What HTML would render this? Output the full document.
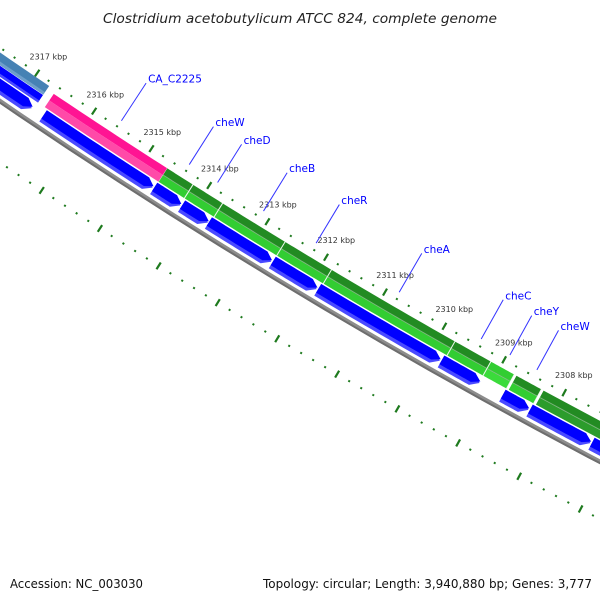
<!DOCTYPE html>
<html><head><meta charset="utf-8"><style>
html,body{margin:0;padding:0;background:#fff;}
svg{display:block;}
</style></head><body>
<svg id="map" xmlns="http://www.w3.org/2000/svg" width="600" height="600" viewBox="0 0 600 600">
<rect width="600" height="600" fill="#fff"/>
<g id="rings"></g>
<g id="labels"></g>
<text x="300" y="23" text-anchor="middle" font-family="DejaVu Sans, Liberation Sans, sans-serif" font-style="italic" font-size="13" fill="#222" textLength="394" lengthAdjust="spacingAndGlyphs">Clostridium acetobutylicum ATCC 824, complete genome</text>
<text x="10" y="588" font-family="DejaVu Sans, Liberation Sans, sans-serif" font-size="12" fill="#111" textLength="133" lengthAdjust="spacingAndGlyphs">Accession: NC_003030</text>
<text x="592" y="588" text-anchor="end" font-family="DejaVu Sans, Liberation Sans, sans-serif" font-size="12" fill="#111" textLength="329" lengthAdjust="spacingAndGlyphs">Topology: circular; Length: 3,940,880 bp; Genes: 3,777</text>
</svg>
<script>
// ---- data ----
const fwdStart = [2319.5, 2316.63, 2314.65, 2314.20, 2313.69, 2312.62, 2311.83, 2309.75, 2309.15, 2308.73, 2308.28];
const fwdEnd   = [2316.75, 2314.65, 2314.21, 2313.70, 2312.63, 2311.84, 2309.76, 2309.16, 2308.77, 2308.32, 2305.5];
const fwdTop   = ['#4682b4','#ff1493','#228b22','#228b22','#228b22','#228b22','#228b22','#228b22','#32cd32','#228b22','#228b22'];
const fwdBot   = ['#6e9fca','#ff4aa8','#32cd32','#32cd32','#32cd32','#32cd32','#32cd32','#32cd32','#3bdb3b','#32cd32','#2c9c2c'];
const revStart = [2319.5, 2316.58, 2314.66, 2314.18, 2313.72, 2312.63, 2311.86, 2309.79, 2308.77, 2308.32, 2307.30];
const revEnd   = [2316.78, 2314.68, 2314.20, 2313.73, 2312.65, 2311.88, 2309.81, 2309.15, 2308.34, 2307.32, 2305.5];
const tickKbp  = [2308, 2309, 2310, 2311, 2312, 2313, 2314, 2315, 2316, 2317];
const geneNames = ['CA_C2225','cheW','cheD','cheB','cheR','cheA','cheC','cheY','cheW'];
const geneKbp   = [2315.59, 2314.41, 2313.92, 2313.13, 2312.23, 2310.82, 2309.44, 2308.96, 2308.51];

// ---- axis (circular) ----
const CX = 3450, CY = -4960;
function ang(k){ return (118.33 + (k - 2308) * 0.6456) * Math.PI / 180; }
function P(r, k){ const a = ang(k); return [CX + r * Math.cos(a), CY + r * Math.sin(a)]; }
function f(p){ return p[0].toFixed(2) + ',' + p[1].toFixed(2); }
function band(k1, k2, r1, r2){
  const n = 16; let d = 'M';
  for (let i = 0; i <= n; i++) d += (i ? ' L' : '') + f(P(r1, k1 + (k2 - k1) * i / n));
  for (let i = n; i >= 0; i--) d += ' L' + f(P(r2, k1 + (k2 - k1) * i / n));
  return d + ' Z';
}
function arrow(k1, k2, r1, r2, head){
  const n = 16, kb = k2 + head; let d = 'M';
  for (let i = 0; i <= n; i++) d += (i ? ' L' : '') + f(P(r1, k1 + (kb - k1) * i / n));
  d += ' L' + f(P((r1 + r2) / 2, k2));
  for (let i = n; i >= 0; i--) d += ' L' + f(P(r2, k1 + (kb - k1) * i / n));
  return d + ' Z';
}
const NS = 'http://www.w3.org/2000/svg';
const rings = document.getElementById('rings');
const labels = document.getElementById('labels');
function mk(tag, attrs, parent){
  const e = document.createElementNS(NS, tag);
  for (const k in attrs) e.setAttribute(k, attrs[k]);
  parent.appendChild(e); return e;
}

// backbone
let bb = mk('path', {d: band(2319.5, 2305.5, 6123, 6127.5), fill: '#8c8c8c'}, rings);


let bb2 = mk('path', {d: band(2319.5, 2305.5, 6125.5, 6127.5), fill: '#6e6e6e'}, rings);



// forward genes
const R1 = 6089, RM = 6097, R2 = 6105;
for (let i = 0; i < fwdStart.length; i++){
  const g = mk('g', {}, rings);
  
  
  if (i === 0){
    mk('path', {d: band(fwdStart[i], fwdEnd[i], 6085, 6095.5), fill: fwdTop[i]}, g);
    mk('path', {d: band(fwdStart[i], fwdEnd[i], 6092.5, 6095.5), fill: fwdBot[i]}, g);
    mk('path', {d: band(fwdStart[i], fwdEnd[i], 6096, 6105), fill: '#0000ff'}, g);
    mk('path', {d: band(fwdStart[i], fwdEnd[i], 6102.5, 6105), fill: '#4a4aff'}, g);
    continue;
  }
  mk('path', {d: band(fwdStart[i], fwdEnd[i], R1, RM), fill: fwdTop[i]}, g);
  mk('path', {d: band(fwdStart[i], fwdEnd[i], RM, R2), fill: fwdBot[i]}, g);
  if (i >= 2) mk('path', {d: band(fwdStart[i], fwdEnd[i], RM - 0.6, RM + 0.3), fill: '#8fb98f', opacity: 0.8}, g);
  mk('path', {d: band(fwdEnd[i] + 0.005, fwdEnd[i] - 0.005, R1, R2), fill: '#e8f5e8'}, g);
}

// reverse genes
const Q1 = 6106.5, Q2 = 6120;
for (let i = 0; i < revStart.length; i++){
  const g = mk('g', {}, rings);
  
  
  mk('path', {d: arrow(revStart[i], revEnd[i], Q1, Q2, 0.12), fill: '#4a4aff'}, g);
  mk('path', {d: arrow(revStart[i], revEnd[i], Q1, Q2 - 3.5, 0.12), fill: '#0000ff'}, g);
}

// ticks
function tickRow(r, name){
  const g = mk('g', {}, rings);
  
  
  for (let k = 2306; k <= 2319.001; k += 0.2){
    const kk = Math.round(k * 10) / 10;
    const major = Math.abs(kk - Math.round(kk)) < 0.01;
    const a = P(r - (major ? 4 : 1), kk), b = P(r + (major ? 4 : 1), kk);
    const t = mk('line', {x1: a[0], y1: a[1], x2: b[0], y2: b[1], stroke: '#1e7a1e', 'stroke-width': major ? 2.2 : 2}, g);
    
    
  }
}
tickRow(6081, 'inner-tick-row');
tickRow(6176, 'outer-tick-row');

// kbp labels
for (let i = 0; i < tickKbp.length; i++){
  const p = P(6061, tickKbp[i]);
  const t = mk('text', {x: p[0].toFixed(1), y: (p[1] + 3).toFixed(1), 'text-anchor': 'middle', 'font-family': 'DejaVu Sans, Liberation Sans, sans-serif', 'font-size': 8, fill: '#333'}, labels);
  t.textContent = tickKbp[i] + ' kbp';
  
  
}

// gene labels
for (let i = 0; i < geneNames.length; i++){
  const a = P(6074, geneKbp[i]), b = P(6029, geneKbp[i]);
  const l = mk('line', {x1: a[0], y1: a[1], x2: b[0], y2: b[1], stroke: '#3333ff', 'stroke-width': 1}, labels);
  
  
  const t = mk('text', {x: (b[0] + 2).toFixed(1), y: (b[1] - 0.5).toFixed(1), 'font-family': 'DejaVu Sans, Liberation Sans, sans-serif', 'font-size': 10.5, fill: '#0000ff'}, labels);
  t.textContent = geneNames[i];
  
  
}
</script>
</body></html>
